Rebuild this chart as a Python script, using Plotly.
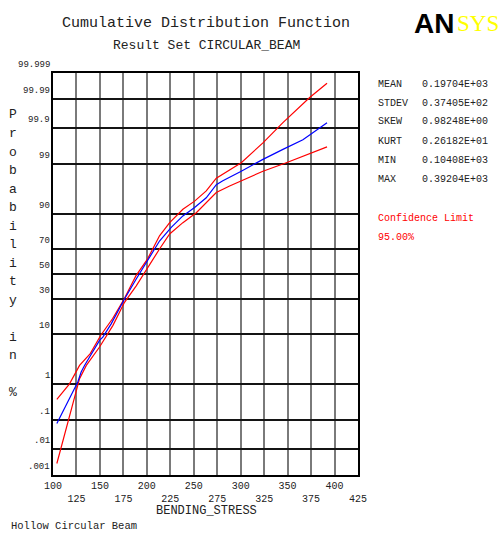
import plotly.graph_objects as go
from statistics import NormalDist

# ---------------- data ----------------
prob_tick_values = [0.001, 0.01, 0.1, 1, 10, 30, 50, 70, 90, 99, 99.9, 99.99, 99.999]
prob_tick_labels = [".001", ".01", ".1", "1", "10", "30", "50", "70", "90", "99", "99.9", "99.99", "99.999"]
x_tick_values = [100, 125, 150, 175, 200, 225, 250, 275, 300, 325, 350, 375, 400, 425]

cdf_x = [104.1, 126.4, 130.0, 133.6, 149.6, 153.1, 162.0, 176.2, 188.7, 199.4, 213.5, 226.0,
         238.4, 250.9, 263.3, 274.0, 281.0, 300.6, 323.7, 345.0, 366.3, 392.0]
cdf_p = [0.076, 1.10, 1.88, 2.62, 7.93, 9.01, 14.5, 29.8, 45.8, 59.9, 75.8, 83.9,
         89.1, 92.1, 94.7, 97.1, 97.6, 98.54, 99.25, 99.59, 99.78, 99.934]

upper_x = [104.1, 117.6, 128.3, 139.7, 150.9, 163.4, 175.8, 188.3, 200.8, 213.5, 224.3,
           238.4, 250.9, 263.3, 274.0, 300.6, 323.7, 345.0, 373.5, 392.0]
upper_p = [0.39, 0.99, 2.62, 4.55, 9.68, 17.1, 29.8, 48.4, 62.6, 79.1, 86.2,
           91.5, 93.9, 96.1, 97.9, 99.09, 99.73, 99.934, 99.991, 99.9974]

lower_x = [104.1, 124.7, 128.3, 135.5, 149.6, 163.9, 176.2, 188.7, 203.0, 213.5, 224.3,
           238.4, 252.7, 274.0, 288.2, 300.6, 323.7, 348.6, 392.0]
lower_p = [0.0029, 0.62, 1.32, 2.62, 6.06, 13.8, 27.4, 40.1, 58.3, 70.2, 80.2,
           86.2, 90.3, 95.8, 96.9, 97.6, 98.54, 99.09, 99.65]

stat_names = ["MEAN", "STDEV", "SKEW", "KURT", "MIN", "MAX"]
stat_values = ["0.19704E+03", "0.37405E+02", "0.98248E+00", "0.26182E+01", "0.10408E+03", "0.39204E+03"]

# ---------------- helpers ----------------
nd = NormalDist()


def z(p_percent):
    return nd.inv_cdf(p_percent / 100.0)


W, H = 500, 534
L, R, T, B = 53, 142, 73, 59
PW, PH = W - L - R, H - T - B


def px_x(px):
    return (px - L) / PW


def px_y(py):
    return (H - B - py) / PH


MONO = "Courier New, Liberation Mono, monospace"

fig = go.Figure()
fig.add_trace(go.Scatter(x=upper_x, y=[z(p) for p in upper_p], mode="lines",
                         line=dict(color="#ff0000", width=1.2), showlegend=False))
fig.add_trace(go.Scatter(x=lower_x, y=[z(p) for p in lower_p], mode="lines",
                         line=dict(color="#ff0000", width=1.2), showlegend=False))
fig.add_trace(go.Scatter(x=cdf_x, y=[z(p) for p in cdf_p], mode="lines",
                         line=dict(color="#0000ff", width=1.2), showlegend=False))

x_tick_text = [str(v) if i % 2 == 0 else "<br>" + str(v) for i, v in enumerate(x_tick_values)]

fig.update_xaxes(range=[100, 425], tickvals=x_tick_values, ticktext=x_tick_text,
                 showgrid=True, gridcolor="#7a7a7a", gridwidth=2,
                 showline=True, linecolor="#000", linewidth=2, mirror=True,
                 zeroline=False, ticks="",
                 tickfont=dict(family=MONO, size=10, color="#222"))
fig.update_yaxes(range=[z(0.001), z(99.999)], tickvals=[z(p) for p in prob_tick_values],
                 showticklabels=False, showgrid=True, gridcolor="#141414", gridwidth=2,
                 showline=True, linecolor="#000", linewidth=2, mirror=True,
                 zeroline=False, ticks="")

ann = []
# y tick labels sit slightly above the grid lines
for p, lab in zip(prob_tick_values, prob_tick_labels):
    ann.append(dict(x=px_x(52), y=z(p), xref="paper", yref="y", text=lab, showarrow=False,
                    xanchor="right", yanchor="middle", yshift=8,
                    font=dict(family=MONO, size=9, color="#222")))

# vertical y-axis title
ytitle = "Probability in %"
for i, ch in enumerate(ytitle):
    if ch == " ":
        continue
    ann.append(dict(x=px_x(13), y=px_y(115 + 18.5 * i), xref="paper", yref="paper", text=ch,
                    showarrow=False, xanchor="center", yanchor="middle",
                    font=dict(family=MONO, size=13, color="#222")))

# titles
ann.append(dict(x=px_x(206), y=px_y(23), xref="paper", yref="paper",
                text="Cumulative Distribution Function", showarrow=False,
                xanchor="center", yanchor="middle", font=dict(family=MONO, size=15, color="#222")))
ann.append(dict(x=px_x(206), y=px_y(45), xref="paper", yref="paper",
                text="Result Set CIRCULAR_BEAM", showarrow=False,
                xanchor="center", yanchor="middle", font=dict(family=MONO, size=13, color="#222")))
ann.append(dict(x=px_x(206), y=px_y(511), xref="paper", yref="paper",
                text="BENDING_STRESS", showarrow=False,
                xanchor="center", yanchor="middle", font=dict(family=MONO, size=12, color="#222")))
ann.append(dict(x=px_x(9), y=px_y(526), xref="paper", yref="paper",
                text="Hollow Circular Beam", showarrow=False,
                xanchor="left", yanchor="middle", font=dict(family=MONO, size=10.5, color="#222")))

# logo
ann.append(dict(x=px_x(456), y=px_y(23), xref="paper", yref="paper", text="<b>AN</b>",
                showarrow=False, xanchor="right", yanchor="middle",
                font=dict(family="Liberation Sans Narrow, Liberation Sans, Arial", size=28, color="#000")))
ann.append(dict(x=px_x(455), y=px_y(23), xref="paper", yref="paper", text="SYS",
                showarrow=False, xanchor="left", yanchor="middle",
                font=dict(family="Liberation Serif, serif", size=23, color="#ffff00")))

# statistics block
for i, (n, v) in enumerate(zip(stat_names, stat_values)):
    yy = 84 + 19 * i
    ann.append(dict(x=px_x(376), y=px_y(yy), xref="paper", yref="paper", text=n, showarrow=False,
                    xanchor="left", yanchor="middle", font=dict(family=MONO, size=10, color="#222")))
    ann.append(dict(x=px_x(420), y=px_y(yy), xref="paper", yref="paper", text=v, showarrow=False,
                    xanchor="left", yanchor="middle", font=dict(family=MONO, size=10, color="#222")))
ann.append(dict(x=px_x(376), y=px_y(218), xref="paper", yref="paper", text="Confidence Limit",
                showarrow=False, xanchor="left", yanchor="middle",
                font=dict(family=MONO, size=10, color="#ff0000")))
ann.append(dict(x=px_x(376), y=px_y(238), xref="paper", yref="paper", text="95.00%",
                showarrow=False, xanchor="left", yanchor="middle",
                font=dict(family=MONO, size=10, color="#ff0000")))

fig.update_layout(width=W, height=H, margin=dict(l=L, r=R, t=T, b=B),
                  paper_bgcolor="white", plot_bgcolor="white", annotations=ann,
                  showlegend=False)

fig.write_html("out.html", config={"displayModeBar": False},
               post_script="document.body.style.margin='0';document.body.style.padding='0';")
